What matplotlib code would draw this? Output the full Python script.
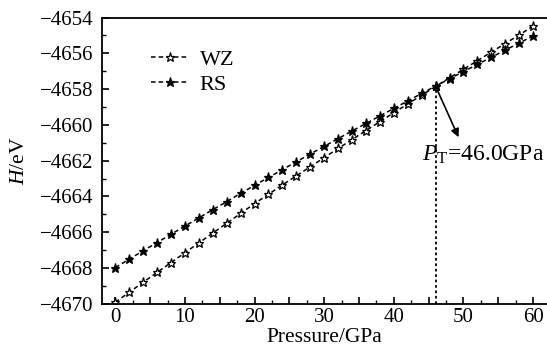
import numpy as np
import matplotlib
matplotlib.use('Agg')
import matplotlib.pyplot as plt
from matplotlib.ticker import MultipleLocator, FuncFormatter

plt.rcParams['font.family'] = ['Liberation Serif', 'DejaVu Serif']
plt.rcParams['mathtext.fontset'] = 'custom'
plt.rcParams['mathtext.rm'] = 'Liberation Serif'
plt.rcParams['mathtext.it'] = 'Liberation Serif:italic'

# Data
pressure = np.arange(0, 61, 2)
h_wz = [-4669.92, -4669.36, -4668.80, -4668.25, -4667.70, -4667.15, -4666.60,
        -4666.05, -4665.50, -4664.95, -4664.40, -4663.88, -4663.36, -4662.85,
        -4662.34, -4661.83, -4661.32, -4660.82, -4660.32, -4659.82, -4659.32,
        -4658.83, -4658.34, -4657.85, -4657.37, -4656.89, -4656.41, -4655.93,
        -4655.45, -4654.97, -4654.48]
h_rs = [-4667.98, -4667.51, -4667.04, -4666.58, -4666.12, -4665.66, -4665.20,
        -4664.74, -4664.29, -4663.83, -4663.38, -4662.94, -4662.50, -4662.06,
        -4661.63, -4661.20, -4660.77, -4660.34, -4659.92, -4659.50, -4659.08,
        -4658.66, -4658.24, -4657.83, -4657.42, -4657.02, -4656.62, -4656.22,
        -4655.82, -4655.42, -4655.03]
p_t = 46.0
h_t = -4657.84

fig = plt.figure(figsize=(5.47, 3.59), dpi=100)
ax = fig.add_axes([0.186, 0.154, 0.814, 0.797])

ax.plot(pressure, h_wz, color='k', lw=1.1, ls=(0, (3, 2)), marker='*', ms=6.5,
        mfc='white', mec='k', mew=0.9, label='WZ')
ax.plot(pressure, h_rs, color='k', lw=1.1, ls=(0, (3, 2)), marker='*', ms=6.5,
        mfc='k', mec='k', mew=0.9, label='RS')

# transition pressure
ax.plot([p_t, p_t], [-4670, h_t], color='k', lw=1.3, ls=(0, (1.5, 1.5)))
ax.annotate('', xy=(49.3, -4660.69), xytext=(p_t, h_t),
            arrowprops=dict(arrowstyle='-|>', color='k', lw=1.2,
                            mutation_scale=12, shrinkA=0, shrinkB=0))
ax.text(44.0, -4661.7, r'$P_{\rm T}$=46.0GPa', fontsize=17, va='center', ha='left')

ax.set_xlim(-1.95, 62)
ax.set_ylim(-4670, -4654)
ax.xaxis.set_major_locator(MultipleLocator(5))
ax.xaxis.set_minor_locator(MultipleLocator(2.5))
ax.xaxis.set_major_formatter(FuncFormatter(lambda v, p: '%d' % v if v % 10 == 0 else ''))
ax.yaxis.set_major_locator(MultipleLocator(2))
ax.yaxis.set_minor_locator(MultipleLocator(1))
ax.tick_params(which='both', direction='in', top=False, right=False, labelsize=15)
ax.tick_params(which='major', length=5, width=1.2, pad=3)
ax.tick_params(which='minor', length=3, width=1.0)
ax.tick_params(axis='y', which='major', pad=6)
for s in ['left', 'bottom', 'top']:
    ax.spines[s].set_linewidth(1.3)
ax.spines['right'].set_visible(False)

ax.set_xlabel('Pressure/GPa', fontsize=15.5, labelpad=1)
ax.set_ylabel(r'$H$/eV', fontsize=15.5, labelpad=8)

ax.legend(loc='upper left', bbox_to_anchor=(0.11, 0.89), frameon=False, fontsize=16,
          handlelength=1.7, handletextpad=0.5, labelspacing=0.2,
          borderpad=0, borderaxespad=0)

fig.savefig('out.png', dpi=100)
